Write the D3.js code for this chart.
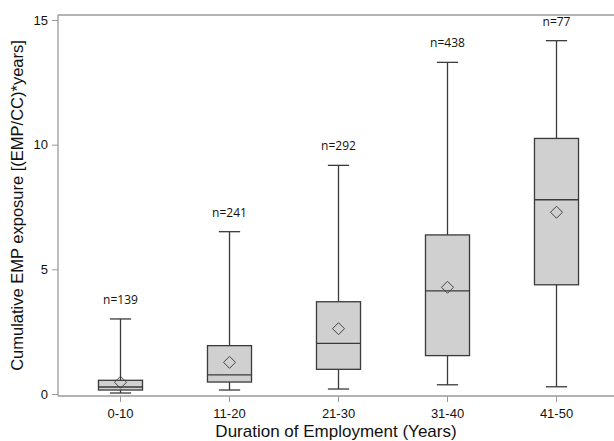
<!DOCTYPE html>
<html>
<head>
<meta charset="utf-8">
<script src="https://cdn.jsdelivr.net/npm/d3@7"></script>
<style>
  body { margin: 0; background: #fff; overflow: hidden; }
  svg { display: block; }
</style>
</head>
<body>
<div id="chart"></div>
<script>
const groups = ["0-10", "11-20", "21-30", "31-40", "41-50"];
const counts = [139, 241, 292, 438, 77];
const whiskerLow = [0.04, 0.16, 0.20, 0.37, 0.29];
const q1 = [0.16, 0.48, 0.99, 1.54, 4.38];
const median = [0.28, 0.77, 2.03, 4.14, 7.79];
const q3 = [0.55, 1.94, 3.70, 6.38, 10.25];
const whiskerHigh = [3.01, 6.51, 9.17, 13.30, 14.17];
const means = [0.47, 1.27, 2.62, 4.28, 7.29];
const yTicks = [0, 5, 10, 15];

const W = 614, H = 441;
const plot = { left: 58, top: 15, right: 614, bottom: 396 };
const font = "'Liberation Sans', Arial, sans-serif";

const boxes = groups.map((g, i) => ({
    group: g, n: counts[i], lo: whiskerLow[i], q1: q1[i], med: median[i],
    q3: q3[i], hi: whiskerHigh[i], mean: means[i]
}));

const svg = d3.select("#chart").append("svg")
    .attr("width", W)
    .attr("height", H);

const x = d3.scaleBand()
    .domain(groups)
    .range([66, 611]);

const y = d3.scaleLinear()
    .domain([-0.08, 15.2])
    .range([plot.bottom, plot.top]);

const boxW = x.bandwidth() * 0.404;
const capW = x.bandwidth() * 0.195;

// frame top line
svg.append("line")
    .attr("x1", plot.left).attr("x2", plot.right)
    .attr("y1", plot.top).attr("y2", plot.top)
    .attr("stroke", "#9a9a9a").attr("stroke-width", 1.3);

// axes
const yAxis = svg.append("g")
    .attr("transform", `translate(${plot.left},0)`)
    .call(d3.axisLeft(y).tickValues(yTicks).tickSize(6).tickPadding(4));
yAxis.select(".domain").attr("stroke", "#9a9a9a").attr("stroke-width", 1.3)
    .attr("d", `M0,${plot.top}V${plot.bottom}`);
yAxis.selectAll(".tick line").attr("stroke", "#9a9a9a");
yAxis.selectAll(".tick text")
    .attr("font-family", font)
    .attr("font-size", 13).attr("fill", "#111");

const xAxis = svg.append("g")
    .attr("transform", `translate(0,${plot.bottom})`)
    .call(d3.axisBottom(x).tickSize(6).tickPadding(7));
xAxis.select(".domain").attr("stroke", "#9a9a9a").attr("stroke-width", 1.3)
    .attr("d", `M${plot.left},0H${plot.right}`);
xAxis.selectAll(".tick line").attr("stroke", "#9a9a9a");
xAxis.selectAll(".tick text")
    .attr("font-family", font)
    .attr("font-size", 13).attr("fill", "#111");

// boxes
const g = svg.selectAll("g.box")
    .data(boxes)
    .enter()
    .append("g")
    .attr("class", "box")
    .attr("transform", d => `translate(${x(d.group) + x.bandwidth() / 2},0)`);

const stroke = "#3a3a3a";

g.append("line")
    .attr("x1", 0).attr("x2", 0)
    .attr("y1", d => y(d.hi)).attr("y2", d => y(d.lo))
    .attr("stroke", stroke).attr("stroke-width", 1.3);

g.append("line")
    .attr("x1", -capW / 2).attr("x2", capW / 2)
    .attr("y1", d => y(d.hi)).attr("y2", d => y(d.hi))
    .attr("stroke", stroke).attr("stroke-width", 1.3);

g.append("line")
    .attr("x1", -capW / 2).attr("x2", capW / 2)
    .attr("y1", d => y(d.lo)).attr("y2", d => y(d.lo))
    .attr("stroke", stroke).attr("stroke-width", 1.3);

g.append("rect")
    .attr("x", -boxW / 2)
    .attr("width", boxW)
    .attr("y", d => y(d.q3))
    .attr("height", d => y(d.q1) - y(d.q3))
    .attr("fill", "#d0d0d0")
    .attr("stroke", stroke).attr("stroke-width", 1.3);

g.append("line")
    .attr("x1", -boxW / 2).attr("x2", boxW / 2)
    .attr("y1", d => y(d.med)).attr("y2", d => y(d.med))
    .attr("stroke", stroke).attr("stroke-width", 1.3);

// mean diamonds
g.append("path")
    .attr("d", d => {
        const cy = y(d.mean), r = 6;
        return `M0,${cy - r}L${r},${cy}L0,${cy + r}L${-r},${cy}Z`;
    })
    .attr("fill", "none")
    .attr("stroke", "#444").attr("stroke-width", 1);

// n labels
g.append("text")
    .attr("text-anchor", "middle")
    .attr("y", d => y(d.hi) - 15)
    .attr("font-family", "'Open Sans', sans-serif")
    .attr("font-size", 12)
    .attr("fill", "#111")
    .text(d => `n=${d.n}`);

// axis titles
svg.append("text")
    .attr("text-anchor", "middle")
    .attr("x", (plot.left + plot.right) / 2)
    .attr("y", 437)
    .attr("font-family", font)
    .attr("font-size", 17)
    .attr("fill", "#111")
    .text("Duration of Employment (Years)");

svg.append("text")
    .attr("text-anchor", "middle")
    .attr("transform", "rotate(-90)")
    .attr("x", -(plot.top + plot.bottom) / 2)
    .attr("y", 23)
    .attr("font-family", font)
    .attr("font-size", 16.5)
    .attr("fill", "#111")
    .text("Cumulative EMP exposure [(EMP/CC)*years]");
</script>
</body>
</html>
